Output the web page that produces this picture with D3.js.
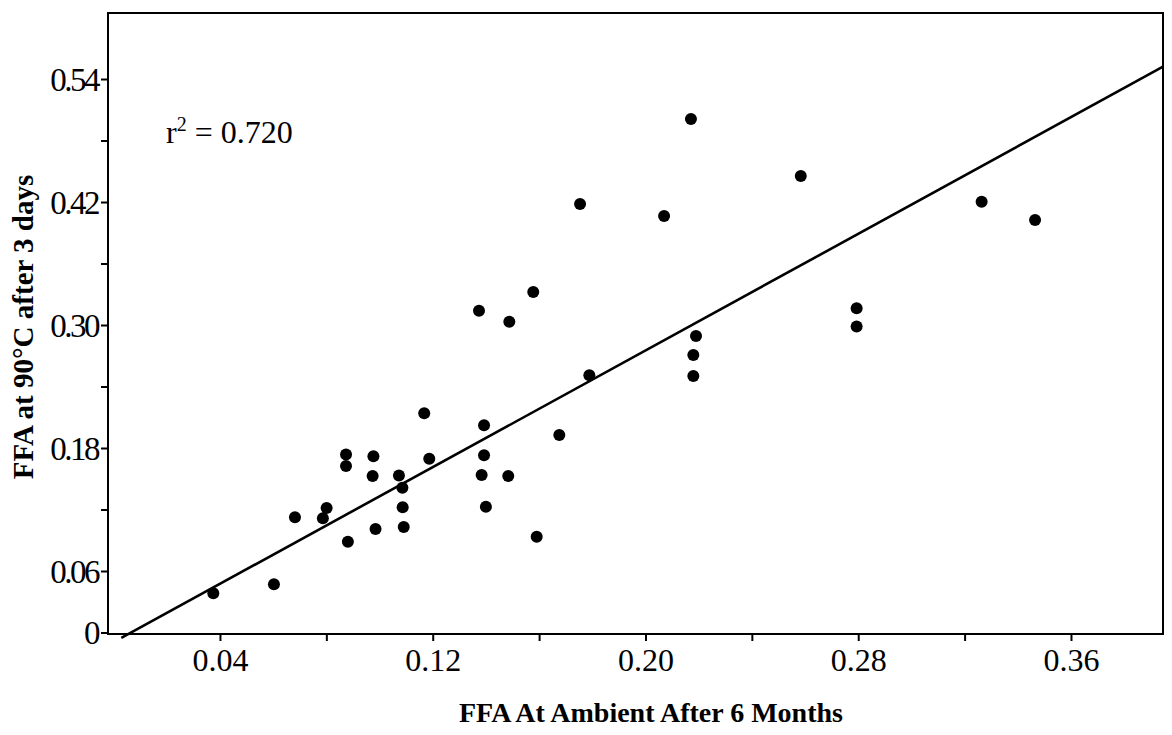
<!DOCTYPE html>
<html>
<head>
<meta charset="utf-8">
<script src="https://cdn.jsdelivr.net/npm/d3@7"></script>
<style>
  body { margin: 0; background: #fff; }
  text { font-family: "Liberation Serif", "Times New Roman", serif; fill: #000; }
</style>
</head>
<body>
<div id="chart"></div>
<script>
// FFA readings, ambient 6 months (x) vs 90°C 3 days (y)
var ffaAmbient = [0.0375, 0.0603, 0.0682, 0.0787, 0.0801, 0.0874, 0.0874, 0.0881,
    0.0977, 0.0974, 0.0985, 0.1073, 0.1086, 0.1087, 0.1091, 0.1168, 0.1187,
    0.1374, 0.1488, 0.1578, 0.1393, 0.1393, 0.1384, 0.1484, 0.1400, 0.1591,
    0.1676, 0.1789, 0.1754, 0.2070, 0.2171, 0.2584, 0.2794, 0.2794, 0.2190,
    0.2180, 0.2180, 0.3264, 0.3465]
var ffa90 = [0.0382, 0.0470, 0.1124, 0.1114, 0.1215, 0.1737, 0.1624, 0.0886,
    0.1719, 0.1527, 0.1010, 0.1532, 0.1413, 0.1221, 0.1029, 0.2139, 0.1696,
    0.3140, 0.3032, 0.3322, 0.2021, 0.1729, 0.1537, 0.1527, 0.1227, 0.0935,
    0.1927, 0.2509, 0.4180, 0.4063, 0.5010, 0.4454, 0.3163, 0.2985, 0.2893,
    0.2707, 0.2502, 0.4203, 0.4024]

// regression line end points as drawn
var fitX = [0.0029, 0.3946]
var fitY = [-0.0053, 0.552]

var xTicks = [0.04, 0.08, 0.12, 0.16, 0.20, 0.24, 0.28, 0.32, 0.36]
var xTickLabels = ["0.04", "", "0.12", "", "0.20", "", "0.28", "", "0.36"]
var yTicks = [0, 0.06, 0.12, 0.18, 0.24, 0.30, 0.36, 0.42, 0.48, 0.54]
var yTickLabels = ["0", "0.06", "", "0.18", "", "0.30", "", "0.42", "", "0.54"]

drawChart()

function drawChart() {
    const width = 1172, height = 735
    const plotLeft = 108, plotRight = 1163, plotTop = 13, plotBottom = 634

    const x = d3.scaleLinear().domain([-0.0021, 0.3946]).range([plotLeft, plotRight])
    const y = d3.scaleLinear().domain([-0.00146, 0.6044]).range([plotBottom, plotTop])

    const svg = d3.select("#chart").append("svg")
        .attr("width", width)
        .attr("height", height)

    // frame
    svg.append("rect")
        .attr("x", plotLeft).attr("y", plotTop)
        .attr("width", plotRight - plotLeft).attr("height", plotBottom - plotTop)
        .attr("fill", "none")
        .attr("stroke", "#000")
        .attr("stroke-width", 2)

    const xAxis = d3.axisBottom(x)
        .tickValues(xTicks)
        .tickSize(7)
        .tickFormat((d, i) => xTickLabels[i])
    const gx = svg.append("g")
        .attr("transform", `translate(0,${plotBottom})`)
        .call(xAxis)
    gx.select(".domain").remove()
    gx.selectAll("line").attr("stroke", "#000").attr("stroke-width", 2)
    gx.selectAll("text")
        .attr("dy", "0")
        .attr("y", 37)
        .style("font-size", "32px")

    const yAxis = d3.axisLeft(y)
        .tickValues(yTicks)
        .tickSize(7)
        .tickFormat((d, i) => yTickLabels[i])
    const gy = svg.append("g")
        .attr("transform", `translate(${plotLeft},0)`)
        .call(yAxis)
    gy.select(".domain").remove()
    gy.selectAll("line").attr("stroke", "#000").attr("stroke-width", 2)
    gy.selectAll("text")
        .attr("x", -10)
        .attr("dy", "0.34em")
        .style("font-size", "33px")
        .style("letter-spacing", "-2.5px")

    // fitted line
    const line = d3.line().x(d => x(d[0])).y(d => y(d[1]))
    svg.append("path")
        .datum(fitX.map((v, i) => [v, fitY[i]]))
        .attr("d", line)
        .attr("fill", "none")
        .attr("stroke", "#000")
        .attr("stroke-width", 2.6)

    // points
    svg.append("g").selectAll("circle")
        .data(ffaAmbient)
        .enter().append("circle")
        .attr("cx", d => x(d))
        .attr("cy", (d, i) => y(ffa90[i]))
        .attr("r", 6)
        .attr("fill", "#000")

    // r squared note
    const note = svg.append("text")
        .attr("x", 166)
        .attr("y", 143)
        .style("font-size", "32px")
    note.append("tspan").text("r")
    note.append("tspan").attr("dy", -12).style("font-size", "20px").text("2")
    note.append("tspan").attr("dy", 12).text(" = 0.720")

    // axis titles
    svg.append("text")
        .attr("x", 651)
        .attr("y", 722)
        .attr("text-anchor", "middle")
        .style("font-size", "28px")
        .style("font-weight", "bold")
        .text("FFA At Ambient After 6 Months")

    svg.append("text")
        .attr("transform", "translate(33,327) rotate(-90)")
        .attr("text-anchor", "middle")
        .style("font-size", "29px")
        .style("font-weight", "bold")
        .text("FFA at 90°C after 3 days")
}
</script>
</body>
</html>
